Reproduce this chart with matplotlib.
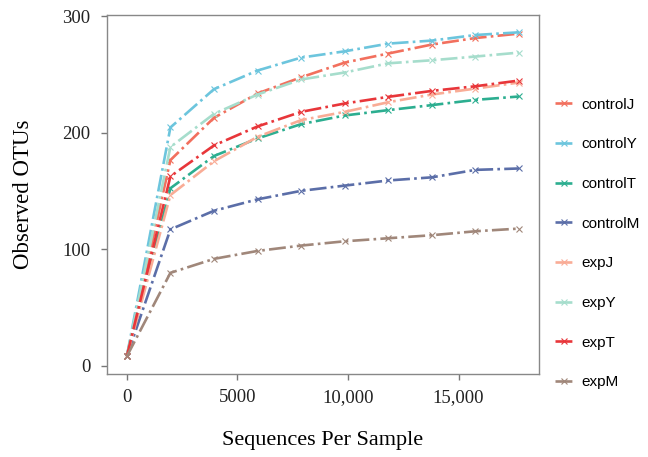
import matplotlib
matplotlib.use("Agg")
import matplotlib.pyplot as plt
from matplotlib.ticker import FuncFormatter

depth = [0, 1970, 3940, 5910, 7880, 9850, 11820, 13790, 15760, 17730]

groups = ["controlJ", "controlY", "controlT", "controlM", "expJ", "expY", "expT", "expM"]
otus = {
    "controlJ": [8, 176.5, 212.8, 233.7, 247.6, 260.2, 268.0, 275.7, 281.3, 285.1],
    "controlY": [8, 204.5, 237.4, 253.4, 264.5, 269.9, 276.5, 279.1, 283.9, 286.2],
    "controlT": [8, 152.3, 180.0, 195.1, 207.4, 214.8, 219.4, 223.7, 228.2, 231.1],
    "controlM": [8, 117.0, 133.0, 142.8, 150.1, 154.6, 159.0, 161.7, 168.1, 169.3],
    "expJ": [8, 146.5, 175.5, 196.5, 210.8, 217.9, 226.2, 232.8, 237.9, 243.1],
    "expY": [8, 187.7, 216.2, 232.8, 245.7, 251.7, 259.6, 262.2, 265.4, 268.8],
    "expT": [8, 162.5, 189.1, 205.4, 217.9, 225.1, 230.8, 235.9, 239.9, 244.8],
    "expM": [8, 79.7, 91.7, 98.5, 103.1, 106.8, 109.4, 112.0, 115.4, 117.7],
}
colors = ["#F2705E", "#6CC5DD", "#2CAE90", "#5B6EA8",
          "#F9AC96", "#A6DDCC", "#E8363A", "#A0877A"]

fig = plt.figure(figsize=(6.48, 4.57), dpi=100)
ax = fig.add_axes([0.165, 0.182, 0.667, 0.785])

for g, c in zip(groups, colors):
    ax.plot(depth, otus[g], color=c, linestyle="-.", linewidth=1.9,
            marker="x", markersize=5, markeredgewidth=0.8, label=g)

ax.set_xlim(-900, 18640)
ax.set_ylim(-7, 301)
ax.set_xticks([0, 5000, 10000, 15000])
ax.set_yticks([0, 100, 200, 300])
ax.xaxis.set_major_formatter(FuncFormatter(lambda v, p: "0" if v == 0 else ("5000" if v == 5000 else "{:,}".format(int(v)))))

serif = "Liberation Serif"
for lab in ax.get_xticklabels() + ax.get_yticklabels():
    lab.set_fontfamily(serif)
    lab.set_fontsize(13.5)
ax.tick_params(colors="#777777", labelcolor="#222222", length=4, width=1)
ax.tick_params(axis="x", pad=7)
ax.tick_params(axis="y", pad=8)
for s in ax.spines.values():
    s.set_color("#888888")
    s.set_linewidth(1)

ax.set_xlabel("Sequences Per Sample", fontfamily=serif, fontsize=16, labelpad=18)
ax.set_ylabel("Observed OTUs", fontfamily=serif, fontsize=16.5, labelpad=20)

leg = ax.legend(loc="upper left", bbox_to_anchor=(1.005, 0.808), frameon=False,
                prop={"family": "Liberation Sans", "size": 11},
                handlelength=1.2, handletextpad=0.5, labelspacing=1.68)

fig.savefig("out.png", dpi=100)
